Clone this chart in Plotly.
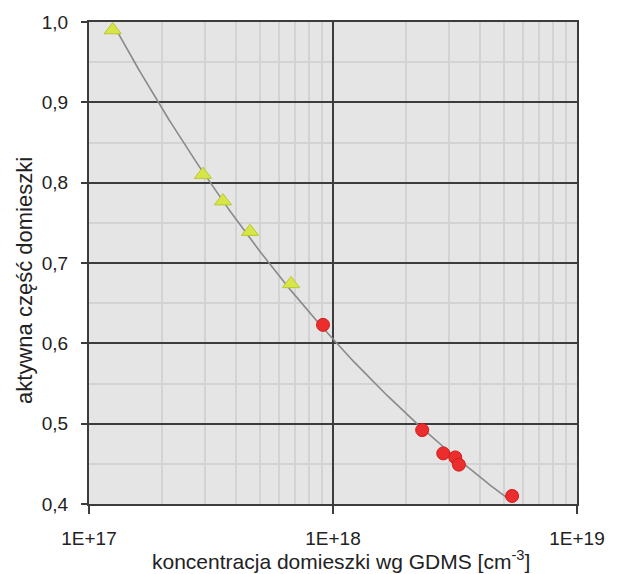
import numpy as np
import plotly.graph_objects as go

# Dopant concentration (GDMS) vs. active fraction of the dopant
tri_conc = [1.25e17, 2.93e17, 3.54e17, 4.57e17, 6.73e17]
tri_frac = [0.990, 0.810, 0.777, 0.739, 0.674]

dot_conc = [9.1e17, 2.32e18, 2.83e18, 3.17e18, 3.28e18, 5.42e18]
dot_frac = [0.623, 0.492, 0.463, 0.458, 0.449, 0.410]

x_tickvals = [1e17, 1e18, 1e19]
x_ticktext = ["1E+17", "1E+18", "1E+19"]
x_minor = [m * 10 ** d for d in (17, 18) for m in range(2, 10)]

x_title = "koncentracja domieszki wg GDMS [cm<sup>-3</sup>]"
y_title = "aktywna część domieszki"

# Power-law trend line fitted to all points: y = a * x^b
all_x = np.array(tri_conc + dot_conc)
all_y = np.array(tri_frac + dot_frac)
b, log_a = np.polyfit(np.log10(all_x), np.log10(all_y), 1)
fit_x = np.logspace(np.log10(all_x.min()), np.log10(all_x.max()), 200)
fit_y = 10 ** log_a * fit_x ** b

FONT = "Liberation Sans, Arial, sans-serif"
TEXT = "#222222"
MAJOR = "#3c3c3c"
MINOR = "#d3d3d3"

fig = go.Figure()
fig.add_trace(go.Scatter(
    x=fit_x, y=fit_y, mode="lines",
    line=dict(color="#8a8a8a", width=1.6),
    hoverinfo="skip", showlegend=False,
))
fig.add_trace(go.Scatter(
    x=tri_conc, y=tri_frac, mode="markers",
    marker=dict(symbol="triangle-up", size=15, color="#d6e646",
                line=dict(color="#b9c832", width=1)),
    showlegend=False,
))
fig.add_trace(go.Scatter(
    x=dot_conc, y=dot_frac, mode="markers",
    marker=dict(symbol="circle", size=13, color="#ec2d2d",
                line=dict(color="#d41c1c", width=1)),
    showlegend=False,
))

fig.update_layout(
    width=619, height=574,
    margin=dict(l=89, r=42, t=20, b=70),
    paper_bgcolor="white",
    plot_bgcolor="#e5e5e5",
    separators=", ",
    font=dict(family=FONT, size=19, color=TEXT),
    showlegend=False,
    annotations=[
        dict(text=x_title, xref="paper", yref="paper", x=0.516, y=-0.1455,
             xanchor="center", yanchor="bottom", showarrow=False,
             borderpad=0, font=dict(size=21, color=TEXT)),
        dict(text=y_title, xref="paper", yref="paper", x=-0.131, y=0.463,
             xanchor="center", yanchor="middle", showarrow=False,
             textangle=-90, font=dict(size=22, color=TEXT)),
    ],
)

fig.update_xaxes(
    type="log", range=[17, 19],
    tickmode="array", tickvals=x_tickvals, ticktext=x_ticktext,
    ticks="outside", ticklen=8, tickwidth=1.5, tickcolor=MAJOR,
    ticklabelstandoff=8,
    showgrid=True, gridcolor=MAJOR, gridwidth=2,
    minor=dict(tickmode="array", tickvals=x_minor, showgrid=True,
               gridcolor=MINOR, gridwidth=1.5, ticks=""),
    showline=True, linecolor=MAJOR, linewidth=2, mirror=True,
    zeroline=False,
)

fig.update_yaxes(
    range=[0.4, 1.0], dtick=0.1, tick0=0.4, tickformat=".1f",
    ticks="outside", ticklen=6, tickwidth=1.5, tickcolor=MAJOR,
    ticklabelstandoff=9,
    showgrid=True, gridcolor=MAJOR, gridwidth=2,
    minor=dict(dtick=0.05, tick0=0.4, showgrid=True,
               gridcolor=MINOR, gridwidth=1.5, ticks=""),
    showline=True, linecolor=MAJOR, linewidth=2, mirror=True,
    zeroline=False,
)

fig.write_html("out.html")
